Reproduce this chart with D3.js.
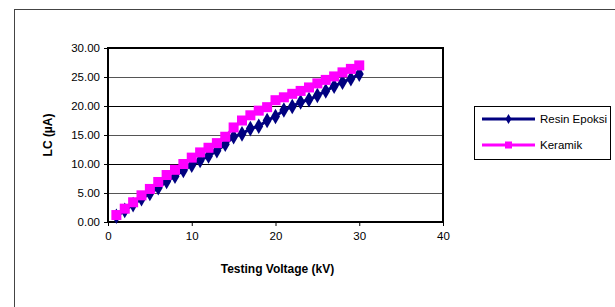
<!DOCTYPE html>
<html><head><meta charset="utf-8">
<script src="https://cdn.jsdelivr.net/npm/d3@7"></script>
<style>body{margin:0;background:#fff;}svg{display:block;font-family:"Liberation Sans",Arial,sans-serif;}</style>
</head><body>
<svg id="c" width="615" height="307"></svg>
<script>
const voltage = [1,2,3,4,5,6,7,8,9,10,11,12,13,14,15,16,17,18,19,20,21,22,23,24,25,26,27,28,29,30];
const resinEpoksi = [1.0,2.0,3.0,4.0,4.9,5.9,7.0,7.9,8.9,9.8,10.6,11.4,12.3,13.4,14.7,15.2,16.1,16.5,17.5,18.2,19.3,19.9,20.7,21.1,21.8,22.6,23.4,24.1,24.7,25.5];
const keramik = [1.2,2.3,3.4,4.6,5.7,6.9,8.1,9.0,10.0,11.1,12.0,12.8,13.6,14.7,16.3,17.5,18.4,19.2,19.8,21.0,21.5,22.1,22.6,23.2,23.9,24.5,25.1,25.8,26.4,27.0];
const yTicks = [0,5,10,15,20,25,30];
const xTicks = [0,10,20,30,40];
const seriesNames = ["Resin Epoksi","Keramik"];
const seriesColors = ["#000080","#FF00FF"];

const svg = d3.select("#c");
svg.append("rect").attr("x",14.5).attr("y",9.5).attr("width",700).attr("height",400)
  .attr("fill","none").attr("stroke","#444").attr("stroke-width",1);

const L=108, R=443, T=48, B=222;
const x = d3.scaleLinear().domain([0,40]).range([L,R]);
const y = d3.scaleLinear().domain([0,30]).range([B,T]);

svg.append("g").selectAll("line").data(yTicks.slice(1,-1)).join("line")
  .attr("x1",L).attr("x2",R).attr("y1",d=>Math.round(y(d))+0.5).attr("y2",d=>Math.round(y(d))+0.5)
  .attr("stroke",(d,i)=>i%2===0?"#555":"#000").attr("stroke-width",1);

const yAxis = svg.append("g").attr("transform",`translate(${L},0)`)
  .call(d3.axisLeft(y).tickValues(yTicks).tickFormat(d3.format(".2f")).tickSize(4).tickPadding(4));
const xAxis = svg.append("g").attr("transform",`translate(0,${B})`)
  .call(d3.axisBottom(x).tickValues(xTicks).tickSize(4).tickPadding(6));
[yAxis,xAxis].forEach(a=>{
  a.select(".domain").remove();
  a.selectAll("line").attr("stroke","#000");
  a.selectAll("text").attr("font-size","11.5px").attr("fill","#000").attr("font-family","Liberation Sans, Arial, sans-serif");
});

svg.append("rect").attr("x",L).attr("y",T).attr("width",R-L).attr("height",B-T)
  .attr("fill","none").attr("stroke","#000").attr("stroke-width",2);

const data = [resinEpoksi, keramik];
const line = d3.line().x((d,i)=>x(voltage[i])).y(d=>y(d));
data.forEach((s,k)=>{
  svg.append("path").datum(s).attr("d",line).attr("fill","none")
    .attr("stroke",seriesColors[k]).attr("stroke-width",3);
});
const diamond = d3.symbol().type(d3.symbolDiamond).size(70);
svg.append("g").selectAll("path").data(resinEpoksi).join("path")
  .attr("d",diamond).attr("transform",(d,i)=>`translate(${x(voltage[i])},${y(d)})`)
  .attr("fill",seriesColors[0]);
svg.append("g").selectAll("rect").data(keramik).join("rect")
  .attr("x",(d,i)=>x(voltage[i])-5).attr("y",d=>y(d)-5).attr("width",10).attr("height",10)
  .attr("fill",seriesColors[1]);

svg.append("text").attr("x",(L+R)/2+2).attr("y",273).attr("text-anchor","middle")
  .attr("font-size","12px").attr("font-weight","bold").text("Testing Voltage (kV)");
svg.append("text").attr("transform",`translate(52,${(T+B)/2}) rotate(-90)`).attr("text-anchor","middle")
  .attr("font-size","12px").attr("font-weight","bold").text("LC (\u00B5A)");

const lg = svg.append("g");
lg.append("rect").attr("x",474.5).attr("y",106.5).attr("width",136).attr("height",53)
  .attr("fill","#fff").attr("stroke","#000").attr("stroke-width",1);
const ly = [119,145];
seriesNames.forEach((n,k)=>{
  lg.append("line").attr("x1",482).attr("x2",535).attr("y1",ly[k]).attr("y2",ly[k])
    .attr("stroke",seriesColors[k]).attr("stroke-width",3);
  if(k===0){
    lg.append("path").attr("d",d3.symbol().type(d3.symbolDiamond).size(30)).attr("transform",`translate(508.5,${ly[k]})`).attr("fill",seriesColors[k]);
  } else {
    lg.append("rect").attr("x",505).attr("y",ly[k]-3.5).attr("width",7).attr("height",7).attr("fill",seriesColors[k]);
  }
  lg.append("text").attr("x",540).attr("y",ly[k]+4).attr("font-size","11.5px").text(n);
});
</script>
</body></html>
